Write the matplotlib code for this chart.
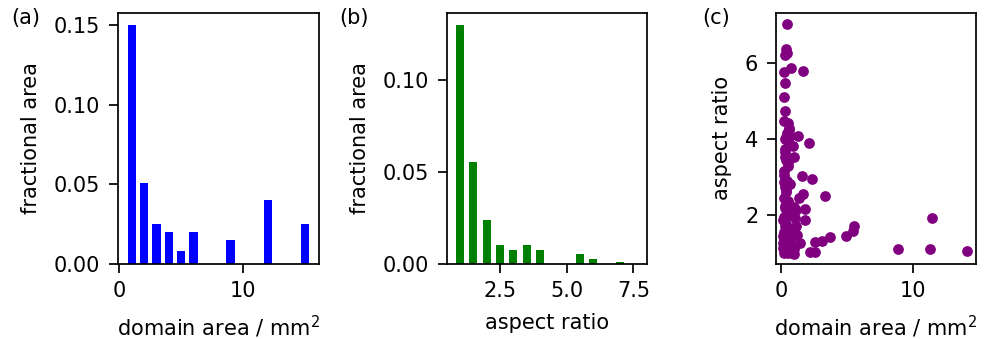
import matplotlib
matplotlib.use("Agg")
import matplotlib.pyplot as plt

# (a) domain area histogram
area_bins = [1, 2, 3, 4, 5, 6, 9, 12, 15]
area_frac = [0.150, 0.0506, 0.025, 0.020, 0.008, 0.020, 0.015, 0.040, 0.025]

# (b) aspect ratio histogram
aspect_bins = [1.0, 1.5, 2.0, 2.5, 3.0, 3.5, 4.0, 5.5, 6.0, 7.0]
aspect_frac = [0.130, 0.0556, 0.0236, 0.0103, 0.0073, 0.0103, 0.0073, 0.0051, 0.0022, 0.0007]

# (c) domain area vs aspect ratio
dom_area = [0.48, 0.35, 0.42, 0.30, 0.76, 0.25, 1.69, 0.30, 0.25, 0.30,
            0.25, 0.55, 0.63, 0.35, 0.68, 1.32, 0.91, 2.12, 0.30, 0.30,
            0.96, 0.55, 0.55, 0.25, 1.57, 2.32, 0.25, 0.68, 0.35, 3.33,
            1.69, 1.39, 0.55, 0.30, 1.14, 1.82, 0.68, 0.18, 1.82, 1.06,
            11.39, 5.54, 5.46, 0.30, 0.81, 3.70, 4.91, 0.13, 1.19, 3.07,
            2.57, 1.44, 0.18, 0.68, 0.18, 0.96, 8.82, 11.26, 14.03, 2.19,
            2.57, 0.96, 0.30, 0.55,
            0.20, 0.40, 0.60, 0.80, 1.00, 0.30, 0.50, 0.70, 0.20, 0.45,
            0.90, 0.25, 0.60, 1.10, 0.35, 0.20, 0.50, 0.80, 0.30, 0.60,
            0.20, 1.00, 0.40, 0.30, 0.45, 0.25, 0.40, 0.30, 0.50, 0.45,
            0.60, 0.30]
aspect = [7.03, 6.39, 6.28, 6.22, 5.89, 5.78, 5.81, 5.49, 5.11, 4.74,
          4.48, 4.42, 4.24, 4.07, 4.08, 4.08, 3.82, 3.89, 3.67, 3.54,
          3.54, 3.37, 3.28, 3.06, 3.04, 2.95, 2.88, 2.82, 2.67, 2.49,
          2.55, 2.45, 2.38, 2.18, 2.14, 2.15, 2.10, 1.88, 1.86, 1.92,
          1.93, 1.70, 1.57, 1.70, 1.64, 1.42, 1.44, 1.44, 1.48, 1.31,
          1.29, 1.27, 1.27, 1.27, 1.13, 1.11, 1.09, 1.11, 1.06, 1.03,
          1.03, 0.97, 1.04, 1.00,
          1.00, 1.05, 1.10, 1.00, 1.15, 1.20, 1.30, 1.35, 1.40, 1.50,
          1.50, 1.55, 1.60, 1.70, 1.75, 1.95, 2.00, 2.00, 2.25, 2.30,
          2.45, 2.20, 2.60, 2.75, 2.90, 3.15, 3.45, 3.75, 3.95, 4.15,
          4.30, 4.00]

plt.rcParams["font.size"] = 15
plt.rcParams["axes.linewidth"] = 1.25
plt.rcParams["axes.labelpad"] = 9
plt.rcParams["xtick.major.size"] = 6.5
plt.rcParams["ytick.major.size"] = 6.5
plt.rcParams["xtick.major.width"] = 1.25
plt.rcParams["ytick.major.width"] = 1.25
plt.rcParams["xtick.major.pad"] = 6
plt.rcParams["ytick.major.pad"] = 6

fig = plt.figure(figsize=(9.85, 3.39), dpi=100)
ax1 = fig.add_axes([0.1193, 0.2227, 0.2046, 0.7381])
ax2 = fig.add_axes([0.4535, 0.2227, 0.2030, 0.7381])
ax3 = fig.add_axes([0.7875, 0.2227, 0.2034, 0.7381])

# (a)
ax1.bar(area_bins, area_frac, width=0.68, color="blue")
ax1.set_xlim(-0.15, 16.15)
ax1.set_xlabel("domain area / mm$^2$")
ax1.set_ylabel("fractional area")

# (b)
ax2.bar(aspect_bins, aspect_frac, width=0.3, color="green")
ax2.set_xlim(0.5, 8.0)
ax2.set_xticks([2.5, 5.0, 7.5])
ax2.set_yticks([0.0, 0.05, 0.10])
ax2.set_xlabel("aspect ratio")
ax2.set_ylabel("fractional area")

# (c)
ax3.scatter(dom_area, aspect, s=45, color="purple")
ax3.set_xlim(-0.4, 14.75)
ax3.set_ylim(0.72, 7.32)
ax3.set_xlabel("domain area / mm$^2$")
ax3.set_ylabel("aspect ratio")

fig.text(0.011, 0.975, "(a)", va="top", ha="left")
fig.text(0.344, 0.975, "(b)", va="top", ha="left")
fig.text(0.713, 0.975, "(c)", va="top", ha="left")

fig.savefig("out.png", dpi=100)
